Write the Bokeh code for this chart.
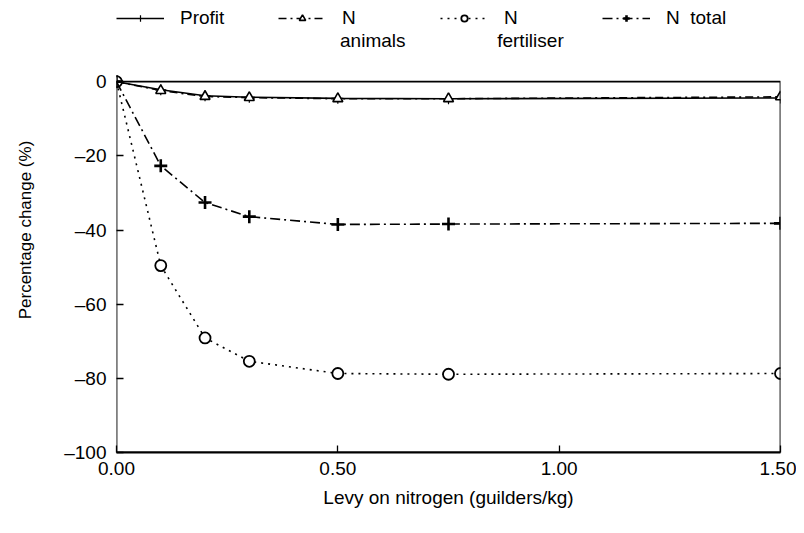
from bokeh.plotting import figure
from bokeh.models import Legend, LegendItem, FixedTicker, Range1d, BoxAnnotation, Label
from bokeh.embed import file_html
from bokeh.resources import INLINE

levy = [0.0, 0.1, 0.2, 0.3, 0.5, 0.75, 1.5]
profit = [0.0, -2.2, -3.8, -4.2, -4.5, -4.6, -4.4]
n_animals = [0.0, -2.4, -4.0, -4.3, -4.6, -4.6, -4.1]
n_fertiliser = [0.0, -49.6, -69.1, -75.4, -78.7, -78.9, -78.7]
n_total = [0.0, -22.7, -32.6, -36.4, -38.5, -38.4, -38.2]

x_ticks = [0.0, 0.5, 1.0, 1.5]
x_tick_labels = ["0.00", "0.50", "1.00", "1.50"]
y_ticks = [0, -20, -40, -60, -80, -100]
y_tick_labels = ["0", "\u201320", "\u201340", "\u201360", "\u201380", "\u2013100"]

FONT = "Liberation Sans"
X0, X1, Y0, Y1 = 0.0, 1.5, -100, 0

# extra head-room above the data box holds the legend
p = figure(frame_width=664, frame_height=445, output_backend="svg", toolbar_location=None,
           x_range=Range1d(X0, X1), y_range=Range1d(Y0, 20),
           min_border_left=116, min_border_right=16, min_border_top=7,
           min_border_bottom=73, outline_line_color=None)
p.grid.visible = False
p.background_fill_color = "white"
p.border_fill_color = "white"

p.add_layout(BoxAnnotation(left=X0, right=X1, bottom=Y0, top=Y1, fill_alpha=0,
                           line_color="black", line_alpha=1.0, line_width=1.8))

r_profit = p.line(levy, profit, line_color="black", line_width=1.6)
m_profit = p.scatter(levy, profit, marker="cross", size=11, line_color="black", line_width=1.2)
r_anim = p.line(levy, n_animals, line_color="black", line_width=1.6, line_dash="8 4 2 4")
m_anim = p.scatter(levy, n_animals, marker="triangle", size=10, line_color="black",
                   fill_color="white", line_width=1.6)
r_fert = p.line(levy, n_fertiliser, line_color="black", line_width=1.6, line_dash="2 5")
m_fert = p.scatter(levy, n_fertiliser, marker="circle", size=11, line_color="black",
                   fill_color="white", line_width=1.8)
r_tot = p.line(levy, n_total, line_color="black", line_width=1.6, line_dash="10 4 2 4")
m_tot = p.scatter(levy, n_total, marker="cross", size=13, line_color="black", line_width=2.6)

p.xaxis.ticker = FixedTicker(ticks=x_ticks)
p.xaxis.major_label_overrides = dict(zip(x_ticks, x_tick_labels))
p.yaxis.ticker = FixedTicker(ticks=y_ticks)
p.yaxis.major_label_overrides = dict(zip(y_ticks, y_tick_labels))
for ax in (p.xaxis, p.yaxis):
    ax.major_tick_in = 7
    ax.major_tick_out = 0
    ax.minor_tick_line_color = None
    ax.axis_line_width = 1.8
    ax.major_tick_line_width = 1.3
    ax.major_label_text_font = FONT
    ax.major_label_text_font_size = "19px"
    ax.major_label_text_color = "black"
    ax.axis_label_text_font = FONT
    ax.axis_label_text_font_style = "normal"
    ax.axis_label_text_color = "black"
p.yaxis.axis_line_color = None
p.xaxis.axis_label = "Levy on nitrogen (guilders/kg)"
p.yaxis.axis_label = "Percentage change (%)"
p.xaxis.axis_label_text_font_size = "19px"
p.yaxis.axis_label_text_font_size = "17px"
p.xaxis.major_label_standoff = 9
p.xaxis.axis_label_standoff = 9
p.yaxis.major_label_standoff = 10
p.yaxis.axis_label_standoff = 26

legend = Legend(items=[
    LegendItem(label="Profit", renderers=[r_profit, m_profit]),
    LegendItem(label="N", renderers=[r_anim, m_anim]),
    LegendItem(label="N", renderers=[r_fert, m_fert]),
    LegendItem(label="N  total", renderers=[r_tot, m_tot]),
], orientation="horizontal", location="top_left")
legend.border_line_color = None
legend.background_fill_alpha = 0
legend.label_text_font = FONT
legend.label_text_font_size = "19px"
legend.label_text_color = "black"
legend.label_width = 66
legend.glyph_width = 48
legend.glyph_height = 16
legend.label_standoff = 16
legend.spacing = 32
legend.padding = 3
legend.margin = 0
p.add_layout(legend, "center")

# second lines of the two-line legend labels
for xl, txt in [(0.505, "animals"), (0.86, "fertiliser")]:
    p.add_layout(Label(x=xl, y=11.0, text=txt, text_font=FONT, text_font_size="19px",
                       text_color="black", text_baseline="middle"))

open("out.html", "w").write(file_html(p, INLINE))
